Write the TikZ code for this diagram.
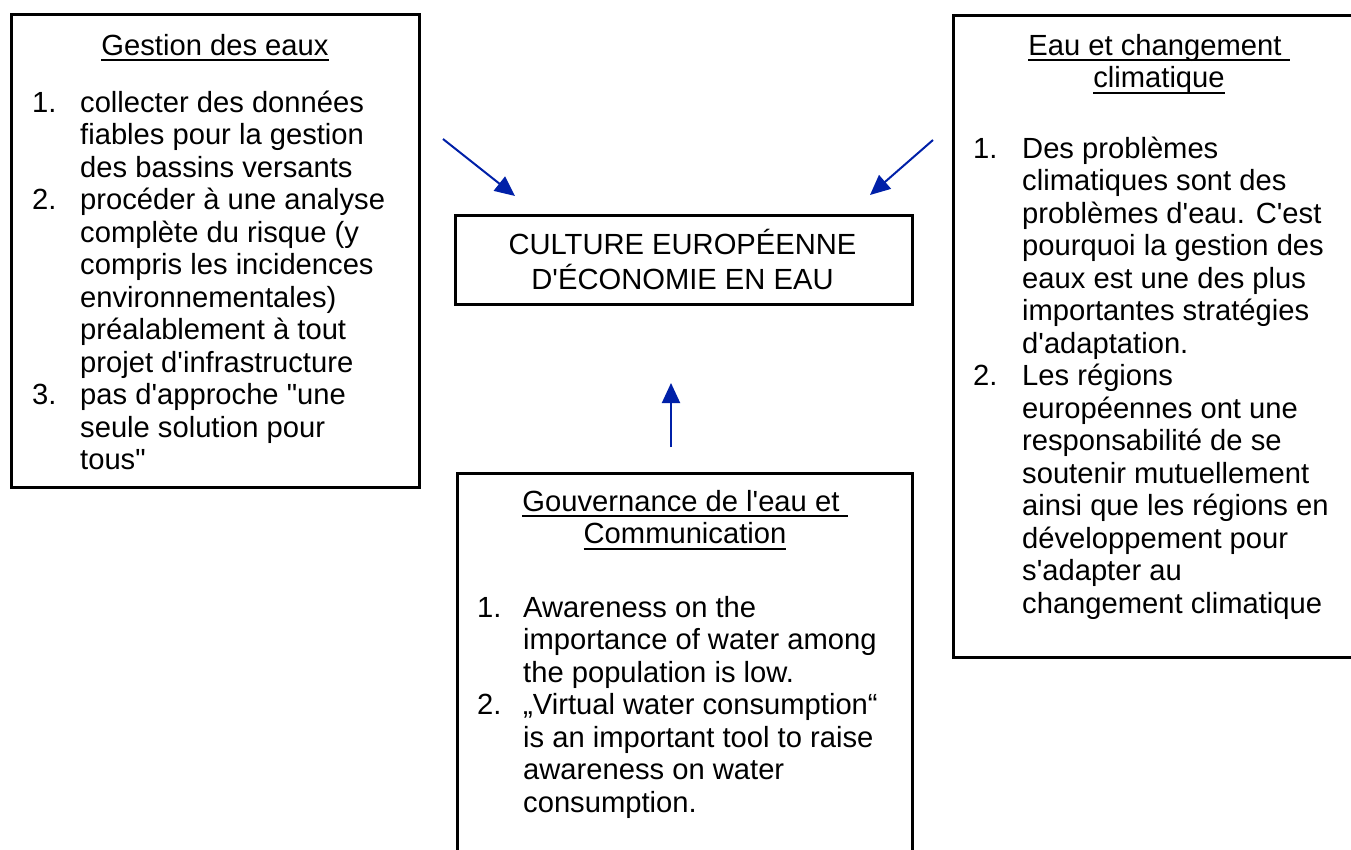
\documentclass[tikz,border=0pt]{standalone}
\usepackage{fontspec}
\setmainfont{Liberation Sans}[Ligatures=TeXOff]
\usetikzlibrary{arrows.meta}
\definecolor{arrowblue}{RGB}{0,32,168}
\newcommand\ulin[1]{\setbox0\hbox{#1}\rlap{\rule[-6pt]{\wd0}{2pt}}\box0}
\newcommand\bodysize{\fontsize{29.17}{32.5}\selectfont}
\begin{document}
\begin{tikzpicture}[x=1pt,y=-1pt,
  box/.style={draw, line width=3pt, inner sep=0pt, anchor=north west},
  txt/.style={inner sep=0pt, font=\bodysize},
  conn/.style={draw=arrowblue, line width=2pt, -{Triangle[length=20pt,width=18pt]}, arrowblue}]
\useasboundingbox (0,0) rectangle (1351,849);
\clip (0,0) rectangle (1351,849);
% boxes
\node[box, minimum width=408pt, minimum height=473pt] (gestion) at (10,13) {};
\node[box, minimum width=420pt, minimum height=642pt] (climat) at (952,13.5) {};
\node[box, minimum width=457pt, minimum height=89pt] (culture) at (454,214) {};
\node[box, minimum width=455pt, minimum height=450pt] (gouv) at (456,472) {};
% titles
\node[txt, anchor=base] (gestiontitle) at (215,55) {\ulin{Gestion des eaux}};
\node[txt, anchor=base] (climattitle) at (1159,55) {\begin{tabular}[t]{@{}c@{}}\ulin{Eau et changement\ }\\\ulin{climatique}\end{tabular}};
\node[txt, anchor=base] (gouvtitle) at (685,511) {\begin{tabular}[t]{@{}c@{}}\ulin{Gouvernance de l'eau et\ }\\\ulin{Communication}\end{tabular}};
\node[txt, anchor=base] (culturetxt) at (682.5,254) {\begin{tabular}[t]{@{}c@{}}CULTURE EUROPÉENNE\\D'ÉCONOMIE EN EAU\end{tabular}};
% lists
\node[txt, anchor=base west] (gestionlist) at (32,112) {\begin{tabular}[t]{@{}p{48pt}@{}l@{}}
1. & collecter des données\\
   & fiables pour la gestion\\
   & des bassins versants\\
2. & procéder à une analyse\\
   & complète du risque (y\\
   & compris les incidences\\
   & environnementales)\\
   & préalablement à tout\\
   & projet d'infrastructure\\
3. & pas d'approche "une\\
   & seule solution pour\\
   & tous"
\end{tabular}};
\node[txt, anchor=base west] (climatlist) at (973,158) {\begin{tabular}[t]{@{}p{49pt}@{}l@{}}
1. & Des problèmes\\
   & climatiques sont des\\
   & problèmes d'eau. C'est\\
   & pourquoi la gestion des\\
   & eaux est une des plus\\
   & importantes stratégies\\
   & d'adaptation.\\
2. & Les régions\\
   & européennes ont une\\
   & responsabilité de se\\
   & soutenir mutuellement\\
   & ainsi que les régions en\\
   & développement pour\\
   & s'adapter au\\
   & changement climatique
\end{tabular}};
\node[txt, anchor=base west] (gouvlist) at (477,617) {\begin{tabular}[t]{@{}p{46pt}@{}l@{}}
1. & Awareness on the\\
   & importance of water among\\
   & the population is low.\\
2. & „Virtual water consumption“\\
   & is an important tool to raise\\
   & awareness on water\\
   & consumption.
\end{tabular}};
% connectors
\coordinate (gestfrom) at (443,139);
\coordinate (gestto) at (515,196);
\coordinate (climfrom) at (933,140);
\coordinate (climto) at (870,195);
\coordinate (gouvfrom) at (671,447);
\coordinate (gouvto) at (671,383);
\draw[conn] (gestfrom) -- (gestto);
\draw[conn] (climfrom) -- (climto);
\draw[conn] (gouvfrom) -- (gouvto);
\end{tikzpicture}
\end{document}
